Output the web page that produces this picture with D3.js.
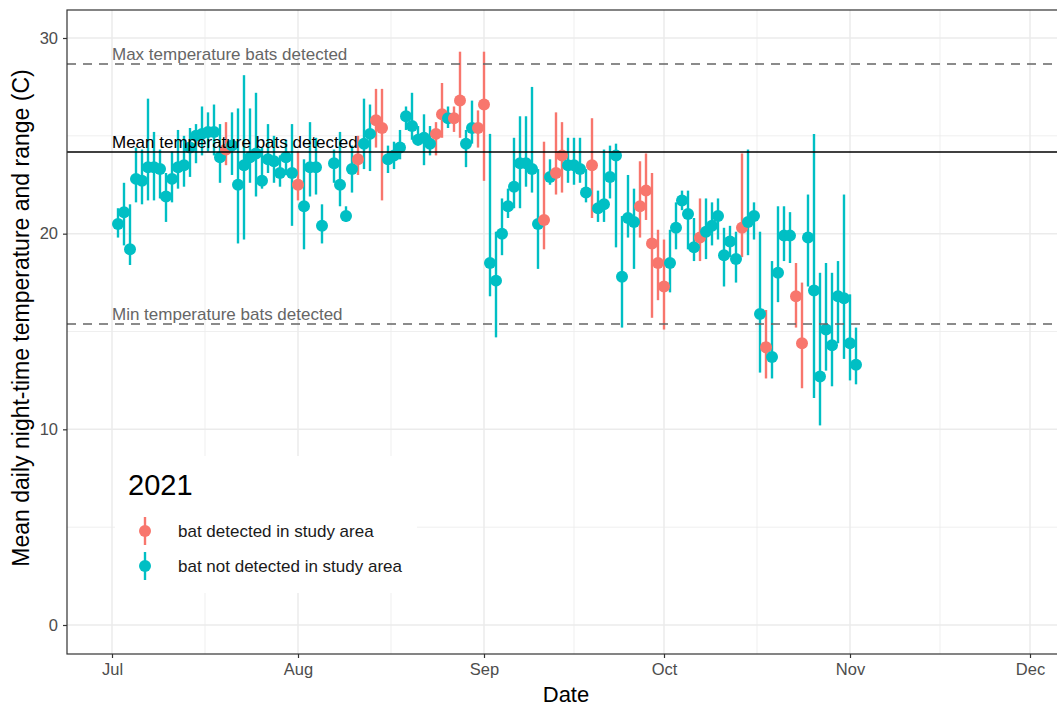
<!DOCTYPE html>
<html>
<head>
<meta charset="utf-8">
<script src="https://cdn.jsdelivr.net/npm/d3@7"></script>
<style>
  body { margin: 0; background: #fff; }
  text { font-family: "Liberation Sans", Arial, sans-serif; }
</style>
</head>
<body>
<svg width="1057" height="709"></svg>
<script>
// daily night-time temperature, 2021
var dates = [
  "07-02","07-03","07-04","07-05","07-06","07-07","07-08","07-09","07-10","07-11",
  "07-12","07-13","07-14","07-15","07-16","07-17","07-18","07-19","07-20","07-21",
  "07-22","07-23","07-24","07-25","07-26","07-27","07-28","07-29","07-30","07-31",
  "08-01","08-02","08-03","08-04","08-05","08-07","08-08","08-09","08-10","08-11",
  "08-12","08-13","08-14","08-15","08-16","08-17","08-18","08-19","08-20","08-21",
  "08-22","08-23","08-24","08-25","08-26","08-27","08-28","08-29","08-30","08-31",
  "09-01","09-02","09-03","09-04","09-05","09-06","09-07","09-08","09-09","09-10",
  "09-11","09-12","09-13","09-14","09-15","09-16","09-17","09-18","09-19","09-20",
  "09-21","09-22","09-23","09-24","09-25","09-26","09-27","09-28","09-29","09-30",
  "10-01","10-02","10-03","10-04","10-05","10-06","10-07","10-08","10-09","10-10",
  "10-11","10-12","10-13","10-14","10-15","10-16","10-17","10-18","10-19","10-20",
  "10-21","10-22","10-23","10-24","10-25","10-26","10-27","10-28","10-29","10-30",
  "10-31","11-01","11-02"
];
var meanTemp = [
  20.5,21.1,19.2,22.8,22.7,23.4,23.4,23.3,21.9,22.8,
  23.4,23.5,24.4,25.0,25.1,25.2,25.2,23.9,24.3,24.5,
  22.5,23.5,23.9,24.1,22.7,23.8,23.7,23.1,23.9,23.1,
  22.5,21.4,23.4,23.4,20.4,23.6,22.5,20.9,23.3,23.8,
  24.6,25.1,25.8,25.4,23.8,24.0,24.4,26.0,25.5,24.8,
  24.9,24.6,25.1,26.1,25.9,25.9,26.8,24.6,25.4,25.4,
  26.6,18.5,17.6,20.0,21.4,22.4,23.6,23.6,23.3,20.5,
  20.7,22.9,23.1,24.0,23.5,23.5,23.3,22.1,23.5,21.3,
  21.5,22.9,24.0,17.8,20.8,20.6,21.4,22.2,19.5,18.5,
  17.3,18.5,20.3,21.7,21.0,19.3,19.8,20.1,20.4,20.9,
  18.9,19.6,18.7,20.3,20.6,20.9,15.9,14.2,13.7,18.0,
  19.9,19.9,16.8,14.4,19.8,17.1,12.7,15.1,14.3,16.8,
  16.7,14.4,13.3
];
var minTemp = [
  19.8,19.4,18.4,21.6,21.5,21.7,21.7,21.8,20.6,21.6,
  22.3,22.4,22.9,23.6,24.0,24.2,24.0,22.6,23.5,23.0,
  19.5,19.7,22.6,21.9,22.3,23.1,22.6,22.4,23.0,20.4,
  21.7,19.2,21.9,22.0,19.5,22.6,21.4,20.6,22.1,23.0,
  23.3,23.2,24.4,21.7,23.1,23.3,23.8,25.3,24.8,24.5,
  23.5,24.0,24.0,24.9,25.4,25.2,24.9,23.4,24.6,24.4,
  22.7,16.8,14.7,18.9,20.8,21.3,21.3,22.4,22.1,18.2,
  19.2,22.5,22.0,22.1,22.6,22.5,22.6,21.6,20.8,20.6,
  20.6,21.8,19.3,15.2,19.8,18.2,19.8,20.7,15.7,16.6,
  15.1,17.0,19.2,21.2,19.2,18.6,18.6,18.7,19.4,19.7,
  17.3,18.8,17.5,18.8,18.9,19.7,12.9,12.6,12.6,16.5,
  18.6,18.5,15.2,12.1,17.3,11.6,10.2,13.0,12.2,14.4,
  13.6,12.5,12.3
];
var maxTemp = [
  21.3,22.6,21.5,24.4,24.3,26.9,25.2,24.3,23.1,24.2,
  25.3,25.0,25.4,25.6,26.5,26.2,26.6,25.6,25.7,26.2,
  26.4,28.1,26.4,27.2,24.4,25.6,25.0,24.0,24.8,25.6,
  24.2,23.8,25.7,24.9,21.5,24.3,25.2,21.4,24.5,25.0,
  26.9,26.6,27.4,27.4,24.5,24.7,25.3,26.5,27.2,25.5,
  26.1,25.5,25.7,27.7,26.5,26.5,29.3,25.3,26.8,26.3,
  29.3,25.1,20.1,21.8,22.3,24.9,26.0,26.0,27.5,23.3,
  24.7,23.8,26.2,25.7,24.9,24.9,24.9,23.3,25.9,22.2,
  24.3,24.5,24.6,20.9,23.0,22.3,23.7,24.1,23.1,20.2,
  19.7,20.2,21.6,22.2,22.2,20.8,21.8,21.8,21.6,21.8,
  20.3,20.4,20.1,24.1,24.3,21.6,20.1,16.1,18.6,21.4,
  21.4,21.1,18.5,17.5,22.0,25.1,18.0,18.5,18.0,18.6,
  22.0,16.9,15.2
];
// days on which a bat was detected in the study area
var detectedDays = [
  "07-20","08-01","08-11","08-14","08-15","08-24","08-25","08-27","08-28","08-31",
  "09-01","09-11","09-13","09-14","09-19","09-27","09-28","09-29","09-30","10-01",
  "10-07","10-14","10-18","10-23","10-24"
];
var monthTicks = ["2021-07-01","2021-08-01","2021-09-01","2021-10-01","2021-11-01","2021-12-01"];
var yTicks = [0, 10, 20, 30];
var refLines = [
  { label: "Max temperature bats detected", value: 28.67, dash: true },
  { label: "Mean temperature bats detected", value: 24.17, dash: false },
  { label: "Min temperature bats detected", value: 15.38, dash: true }
];
var groups = ["bat detected in study area", "bat not detected in study area"];
var groupColors = ["#F8766D", "#00BFC4"];

var svg = d3.select("svg");
var pLeft = 67, pRight = 1065, pTop = 10, pBottom = 654;

var x = d3.scaleUtc()
    .domain([new Date(Date.UTC(2021, 6, 1)), new Date(Date.UTC(2021, 11, 1))])
    .range([112, 1030]);
var y = d3.scaleLinear().domain([0, 30]).range([625, 38]);
var color = d3.scaleOrdinal().domain(groups).range(groupColors);

var parse = d3.utcParse("%Y-%m-%d");
var data = dates.map(function(d, i) {
  return {
    date: parse("2021-" + d),
    mean: meanTemp[i], lo: minTemp[i], hi: maxTemp[i],
    group: detectedDays.indexOf(d) >= 0 ? groups[0] : groups[1]
  };
});
var majors = monthTicks.map(parse);

// panel background + grid
svg.append("rect").attr("x", pLeft).attr("y", pTop)
    .attr("width", pRight - pLeft).attr("height", pBottom - pTop).attr("fill", "#fff");

var grid = svg.append("g");
var minorX = [];
for (var i = 0; i < majors.length - 1; i++) minorX.push((x(majors[i]) + x(majors[i + 1])) / 2);
grid.selectAll(".mx").data(minorX).enter().append("line")
    .attr("x1", function(d) { return d; }).attr("x2", function(d) { return d; })
    .attr("y1", pTop).attr("y2", pBottom)
    .attr("stroke", "#EBEBEB").attr("stroke-width", 0.8);
grid.selectAll(".my").data([5, 15, 25]).enter().append("line")
    .attr("x1", pLeft).attr("x2", pRight)
    .attr("y1", function(d) { return y(d); }).attr("y2", function(d) { return y(d); })
    .attr("stroke", "#EBEBEB").attr("stroke-width", 0.8);
grid.selectAll(".gx").data(majors).enter().append("line")
    .attr("x1", function(d) { return x(d); }).attr("x2", function(d) { return x(d); })
    .attr("y1", pTop).attr("y2", pBottom)
    .attr("stroke", "#EBEBEB").attr("stroke-width", 1.5);
grid.selectAll(".gy").data(yTicks).enter().append("line")
    .attr("x1", pLeft).attr("x2", pRight)
    .attr("y1", function(d) { return y(d); }).attr("y2", function(d) { return y(d); })
    .attr("stroke", "#EBEBEB").attr("stroke-width", 1.5);

// point ranges
var marks = svg.append("g");
marks.selectAll("line").data(data).enter().append("line")
    .attr("x1", function(d) { return x(d.date); })
    .attr("x2", function(d) { return x(d.date); })
    .attr("y1", function(d) { return y(d.lo); })
    .attr("y2", function(d) { return y(d.hi); })
    .attr("stroke", function(d) { return color(d.group); })
    .attr("stroke-width", 2.4);
marks.selectAll("circle").data(data).enter().append("circle")
    .attr("cx", function(d) { return x(d.date); })
    .attr("cy", function(d) { return y(d.mean); })
    .attr("r", 6)
    .attr("fill", function(d) { return color(d.group); });

// reference lines
var refs = svg.append("g");
refs.selectAll("line").data(refLines).enter().append("line")
    .attr("x1", pLeft).attr("x2", pRight)
    .attr("y1", function(d) { return y(d.value); })
    .attr("y2", function(d) { return y(d.value); })
    .attr("stroke", function(d) { return d.dash ? "#666" : "#000"; })
    .attr("stroke-width", 1.6)
    .attr("stroke-dasharray", function(d) { return d.dash ? "9,7" : null; });
refs.selectAll("text").data(refLines).enter().append("text")
    .attr("x", x(majors[0]))
    .attr("y", function(d) { return y(d.value) - 4; })
    .attr("font-size", 17)
    .attr("fill", function(d) { return d.dash ? "#666" : "#000"; })
    .text(function(d) { return d.label; });

// legend
var lg = svg.append("g");
lg.append("rect").attr("x", 115).attr("y", 456).attr("width", 302).attr("height", 137).attr("fill", "#fff");
lg.append("text").attr("x", 128).attr("y", 495).attr("font-size", 29).attr("fill", "#000").text("2021");
var items = lg.selectAll(".item").data(groups).enter().append("g")
    .attr("transform", function(d, i) { return "translate(145," + (531 + i * 35) + ")"; });
items.append("line").attr("y1", -14).attr("y2", 14)
    .attr("stroke", function(d) { return color(d); }).attr("stroke-width", 2.4);
items.append("circle").attr("r", 6).attr("fill", function(d) { return color(d); });
items.append("text").attr("x", 33).attr("dy", "0.35em").attr("font-size", 17)
    .attr("fill", "#1a1a1a").text(function(d) { return d; });

// panel border
svg.append("rect").attr("x", pLeft).attr("y", pTop)
    .attr("width", pRight - pLeft).attr("height", pBottom - pTop)
    .attr("fill", "none").attr("stroke", "#333").attr("stroke-width", 1.2);

// axes
var xAxis = svg.append("g").attr("transform", "translate(0," + pBottom + ")")
    .call(d3.axisBottom(x).tickValues(majors).tickFormat(d3.utcFormat("%b")).tickSize(4).tickPadding(5));
var yAxis = svg.append("g").attr("transform", "translate(" + pLeft + ",0)")
    .call(d3.axisLeft(y).tickValues(yTicks).tickSize(4).tickPadding(5));
[xAxis, yAxis].forEach(function(a) {
  a.select(".domain").remove();
  a.selectAll(".tick line").attr("stroke", "#333").attr("stroke-width", 1.2);
  a.selectAll(".tick text").attr("fill", "#4D4D4D").attr("font-size", 16.5)
      .attr("font-family", "'Liberation Sans', Arial, sans-serif");
});

svg.append("text").attr("x", (pLeft + pRight) / 2).attr("y", 702)
    .attr("text-anchor", "middle").attr("font-size", 22).text("Date");
svg.append("text").attr("transform", "translate(29,318) rotate(-90)")
    .attr("text-anchor", "middle").attr("font-size", 23)
    .text("Mean daily night-time temperature and range (C)");
</script>
</body>
</html>
